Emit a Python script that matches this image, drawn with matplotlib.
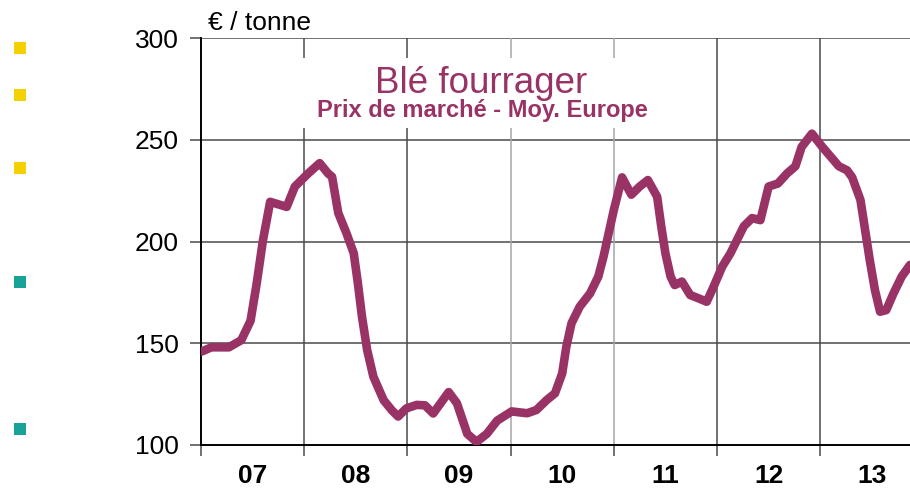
import matplotlib
matplotlib.use('Agg')
from matplotlib import pyplot as plt
from matplotlib.patches import Rectangle

plt.rcParams['font.family'] = ['Liberation Sans', 'DejaVu Sans']

# decimal year, price (EUR / tonne)
years = [2007.01, 2007.10, 2007.27, 2007.39, 2007.48, 2007.54, 2007.60, 2007.67,
         2007.83, 2007.91, 2008.04, 2008.15, 2008.23, 2008.27, 2008.33, 2008.41,
         2008.48, 2008.52, 2008.56, 2008.61, 2008.67, 2008.77, 2008.85, 2008.91,
         2008.99, 2009.09, 2009.17, 2009.25, 2009.40, 2009.48, 2009.58, 2009.67,
         2009.77, 2009.87, 2010.01, 2010.16, 2010.25, 2010.35, 2010.43, 2010.50,
         2010.54, 2010.59, 2010.67, 2010.77, 2010.85, 2010.90, 2011.00, 2011.08,
         2011.17, 2011.25, 2011.33, 2011.42, 2011.46, 2011.50, 2011.55, 2011.59,
         2011.66, 2011.74, 2011.82, 2011.90, 2011.96, 2012.05, 2012.13, 2012.21,
         2012.26, 2012.34, 2012.42, 2012.50, 2012.59, 2012.68, 2012.76, 2012.82,
         2012.92, 2013.02, 2013.13, 2013.18, 2013.26, 2013.31, 2013.39, 2013.43,
         2013.48, 2013.53, 2013.58, 2013.64, 2013.71, 2013.79, 2013.87]
prices = [146, 148, 148, 151.5, 161, 179.5, 200.5, 219.5,
          217, 227, 233.5, 238.5, 233.5, 231.8, 214, 204,
          194.2, 179.5, 163, 146.7, 133.6, 122, 117, 114,
          118, 119.7, 119.5, 115.5, 126, 120.5, 105.5, 101.5,
          105.5, 112, 116.5, 115.6, 117.2, 122.1, 125.4, 135.2,
          148.3, 159.8, 168, 174.5, 182.8, 192.5, 215.5, 231.5,
          223, 227, 230.2, 222, 207.3, 194.2, 182.8, 178.6,
          180.3, 173.7, 172.1, 170.4, 177, 187.6, 194.2, 202.4,
          207.5, 211.5, 210.5, 227, 228.5, 233.5, 237, 246.5,
          253, 246.5, 240, 237, 235, 231.5, 220.4, 207.3,
          190.9, 176.2, 165.5, 166.3, 174.5, 182.8, 188.5]

year_ticks = [2007, 2008, 2009, 2010, 2011, 2012, 2013]
year_labels = ['07', '08', '09', '10', '11', '12', '13']
y_ticks = [100, 150, 200, 250, 300]

# stray legend squares on the left (figure pixels)
square_pos = [(20, 48), (20, 95), (20, 168), (20, 282), (20, 429)]
square_col = ['#f5d000', '#f5d000', '#f5d000', '#17a398', '#17a398']

W, H = 910, 492
fig = plt.figure(figsize=(W / 100, H / 100), dpi=100)
ax = fig.add_axes([201 / W, (H - 445) / H, (910 - 201) / W, (445 - 38) / H])

ax.set_xlim(2007.0, 2013.87)
ax.set_ylim(100, 300)

# grid
for v in y_ticks[1:]:
    ax.axhline(v, color='#4a4a4a', lw=1.1, zorder=1)
for yr in year_ticks[1:]:
    c = '#a6a6a6' if yr in (2010, 2011) else '#4a4a4a'
    ax.axvline(yr, color=c, lw=1.1, zorder=1)

# white box behind the title
ax.add_patch(Rectangle((300 / W, (H - 128) / H), 360 / W, 70 / H,
                       transform=fig.transFigure, facecolor='white',
                       edgecolor='none', zorder=2))

ax.plot(years, prices, color='#993366', lw=6.2, solid_joinstyle='round',
        solid_capstyle='round', zorder=3)

ax.set_yticks(y_ticks)
ax.set_yticklabels([str(v) for v in y_ticks], fontsize=19)
ax.set_xticks(year_ticks)
ax.set_xticklabels([])
ax.set_xticks([y + 0.5 for y in year_ticks], minor=True)
ax.set_xticklabels(year_labels, minor=True, fontsize=19, fontweight='bold')
ax.tick_params(axis='x', which='minor', length=0, pad=14)
ax.tick_params(axis='x', which='major', direction='out', length=8,
               color='#4a4a4a', width=1.1)
ax.tick_params(axis='y', direction='out', length=8, color='#4a4a4a',
               width=1.1, pad=8)

for s in ['top', 'right']:
    ax.spines[s].set_visible(False)
for s in ['left', 'bottom']:
    ax.spines[s].set_color('black')
    ax.spines[s].set_linewidth(1.4)

fig.text(208 / W, (H - 30) / H, '€ / tonne', fontsize=19, ha='left',
         va='baseline')
fig.text(481 / W, (H - 93) / H, 'Blé fourrager', fontsize=26.5,
         color='#993366', ha='center', va='baseline', zorder=5)
fig.text(482 / W, (H - 117) / H, 'Prix de marché - Moy. Europe',
         fontsize=17, fontweight='bold', color='#993366', ha='center',
         va='baseline', zorder=5)

for (px, py), c in zip(square_pos, square_col):
    fig.add_artist(Rectangle(((px - 6) / W, (H - py - 6) / H), 12 / W, 12 / H,
                             transform=fig.transFigure, facecolor=c,
                             edgecolor='none'))

fig.savefig('out.png', dpi=100)
